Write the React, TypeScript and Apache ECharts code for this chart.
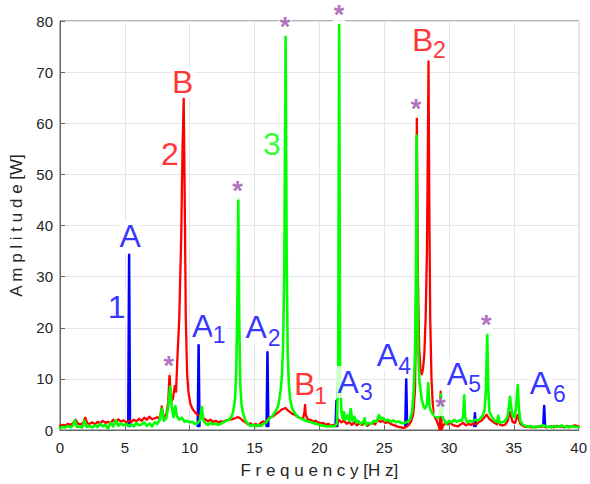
import React, { useEffect, useRef } from "react";
import * as echarts from "echarts";

// Spectrum 1 only rises above the others at its harmonic lines: [frequency (Hz), amplitude (W)]
const PEAKS_1: [number, number][] = [
  [5.33, 34.3], [10.69, 16.6], [16.0, 15.2], [21.32, 5.7], [26.7, 9.9], [32.0, 3.3], [37.34, 4.7],
];
const FLOOR_1 = 0.8;

// Spectra 2 and 3 as [frequency (Hz), amplitude (W)]
const SPECTRUM_2: [number, number][] = [
  [0, 0.8], [0.2, 1.0], [0.4, 0.9], [0.6, 1.2], [0.8, 1.0], [1.0, 1.3], [1.2, 2.0], [1.4, 1.2],
  [1.6, 1.1], [1.8, 1.4], [1.95, 2.4], [2.1, 1.3], [2.3, 1.2], [2.5, 1.5], [2.7, 1.1], [2.9, 1.6],
  [3.1, 1.3], [3.3, 1.8], [3.5, 1.4], [3.7, 1.6], [3.9, 1.3], [4.1, 2.0], [4.3, 1.5], [4.5, 2.1],
  [4.7, 1.6], [4.9, 1.9], [5.1, 1.5], [5.3, 1.8], [5.5, 1.6], [5.7, 2.0], [5.9, 1.7], [6.1, 2.2],
  [6.3, 1.8], [6.5, 2.4], [6.7, 2.0], [6.9, 2.6], [7.1, 2.1], [7.3, 2.3], [7.5, 2.5], [7.7, 2.2],
  [7.85, 4.6], [8.0, 2.5], [8.2, 3.0], [8.35, 5.5], [8.45, 11.1], [8.55, 5.5], [8.7, 6.0],
  [8.85, 8.6], [8.95, 7.5], [9.05, 13.8], [9.2, 22], [9.35, 38], [9.45, 55], [9.54, 64.8],
  [9.62, 45], [9.7, 22], [9.8, 11.3], [9.9, 7.5], [10.05, 5.2], [10.2, 4.2], [10.4, 3.5],
  [10.6, 3.0], [10.8, 2.6], [11.0, 2.4], [11.2, 2.1], [11.4, 1.7], [11.6, 2.0], [11.8, 1.6],
  [12.0, 1.8], [12.2, 1.5], [12.4, 1.7], [12.6, 1.6], [12.8, 1.9], [13.0, 2.0], [13.2, 2.1],
  [13.4, 2.2], [13.6, 2.4], [13.75, 2.5], [13.9, 2.3], [14.1, 1.8], [14.3, 1.5], [14.5, 1.1],
  [14.7, 1.3], [14.9, 0.9], [15.1, 1.2], [15.3, 0.8], [15.5, 1.4], [15.7, 1.7], [15.9, 1.3],
  [16.1, 2.4], [16.3, 2.5], [16.5, 2.8], [16.7, 3.2], [16.9, 3.6], [17.1, 4.0], [17.3, 4.2],
  [17.4, 4.3], [17.5, 4.0], [17.7, 3.6], [17.9, 3.2], [18.1, 3.0], [18.3, 2.6], [18.5, 2.4],
  [18.75, 2.2], [18.85, 3.5], [18.9, 4.9], [18.95, 3.0], [19.1, 2.1], [19.3, 2.0], [19.5, 1.7],
  [19.7, 1.8], [19.9, 1.5], [20.1, 1.3], [20.3, 1.4], [20.5, 1.0], [20.7, 1.2], [20.9, 0.8],
  [21.1, 1.0], [21.3, 0.9], [21.5, 2.0], [21.7, 1.5], [21.9, 1.8], [22.1, 1.2], [22.3, 1.6],
  [22.5, 1.0], [22.7, 1.5], [22.9, 0.9], [23.1, 1.3], [23.3, 1.0], [23.5, 1.6], [23.7, 0.8],
  [23.9, 1.2], [24.1, 1.4], [24.3, 1.1], [24.5, 2.0], [24.7, 1.6], [24.9, 1.8], [25.1, 1.4],
  [25.3, 1.6], [25.5, 1.2], [25.7, 1.0], [25.9, 0.8], [26.1, 0.6], [26.3, 0.5], [26.5, 0.4],
  [26.7, 0.6], [26.9, 1.0], [27.1, 1.8], [27.25, 3.2], [27.38, 8], [27.45, 22], [27.52, 61.1],
  [27.6, 30], [27.7, 16], [27.8, 12], [27.9, 10.9], [28.0, 12], [28.1, 15], [28.2, 22],
  [28.3, 35], [28.37, 55], [28.42, 72.1], [28.48, 45], [28.55, 22], [28.65, 10], [28.75, 5],
  [28.9, 2.6], [29.05, 1.8], [29.2, 0.8], [29.28, 0.1], [29.36, 7.5], [29.44, 0.1], [29.55, 0.9],
  [29.7, 1.3], [29.9, 1.1], [30.1, 1.4], [30.3, 1.0], [30.5, 0.8], [30.7, 0.7], [30.9, 1.1],
  [31.1, 1.4], [31.3, 0.9], [31.5, 1.2], [31.7, 1.0], [31.9, 1.3], [32.1, 1.1], [32.3, 1.6],
  [32.5, 1.8], [32.7, 2.4], [32.9, 3.0], [33.1, 2.2], [33.3, 1.8], [33.5, 1.4], [33.7, 1.1],
  [33.8, 2.2], [33.95, 1.0], [34.1, 0.9], [34.3, 1.0], [34.5, 1.6], [34.7, 3.5], [34.9, 1.6],
  [35.1, 1.4], [35.3, 3.0], [35.5, 1.2], [35.7, 0.8], [35.9, 0.6], [36.1, 0.7], [36.3, 0.5],
  [36.5, 0.6], [36.7, 0.5], [36.9, 0.7], [37.1, 0.6], [37.3, 0.8], [37.5, 0.5], [37.7, 0.6],
  [37.9, 0.7], [38.1, 0.5], [38.3, 0.8], [38.5, 0.6], [38.7, 0.7], [38.9, 0.5], [39.1, 0.8],
  [39.3, 0.6], [39.5, 0.7], [39.7, 0.9], [40, 0.7],
];

const SPECTRUM_3: [number, number][] = [
  [0, 0.4], [0.2, 0.6], [0.4, 0.5], [0.6, 0.8], [0.8, 0.5], [1.0, 0.9], [1.15, 1.9], [1.3, 0.6],
  [1.5, 0.7], [1.7, 0.5], [1.9, 1.8], [2.05, 0.6], [2.3, 0.8], [2.5, 0.5], [2.7, 0.9], [2.9, 0.6],
  [3.1, 1.2], [3.3, 0.7], [3.5, 1.0], [3.7, 0.3], [3.9, 1.4], [4.1, 0.7], [4.3, 1.9], [4.5, 0.8],
  [4.7, 1.3], [4.9, 0.9], [5.1, 1.2], [5.3, 0.8], [5.5, 1.1], [5.7, 0.7], [5.9, 1.4], [6.1, 0.9],
  [6.3, 1.1], [6.5, 1.5], [6.7, 0.8], [6.9, 1.3], [7.1, 0.7], [7.3, 1.5], [7.5, 1.2], [7.7, 2.0],
  [7.85, 4.2], [8.0, 1.8], [8.2, 2.3], [8.35, 4.5], [8.5, 8.5], [8.6, 5.0], [8.75, 2.5],
  [8.9, 4.7], [9.0, 2.8], [9.2, 2.0], [9.4, 2.4], [9.6, 1.6], [9.8, 1.8], [10.0, 1.5],
  [10.2, 1.6], [10.4, 1.2], [10.6, 1.3], [10.8, 2.0], [10.94, 4.5], [11.05, 2.0], [11.2, 1.3],
  [11.4, 1.0], [11.6, 1.4], [11.8, 1.1], [12.0, 1.3], [12.2, 1.0], [12.4, 1.2], [12.6, 1.5],
  [12.8, 1.8], [13.0, 2.0], [13.2, 2.5], [13.35, 3.5], [13.5, 6], [13.6, 12], [13.68, 25],
  [13.75, 45.2], [13.82, 22], [13.9, 9], [14.0, 5], [14.1, 3.5], [14.3, 1.8], [14.5, 1.2],
  [14.7, 0.8], [14.9, 1.0], [15.1, 0.7], [15.3, 1.0], [15.5, 0.8], [15.7, 1.2], [15.9, 1.5],
  [16.1, 2.2], [16.3, 2.5], [16.5, 3.2], [16.7, 4.0], [16.85, 5], [17.0, 7.5], [17.1, 10],
  [17.2, 16], [17.3, 32], [17.4, 77.1], [17.48, 35], [17.56, 15], [17.65, 9], [17.75, 6],
  [17.9, 4.2], [18.0, 3.8], [18.2, 3.0], [18.4, 2.5], [18.6, 2.2], [18.8, 2.0], [19.0, 1.8],
  [19.2, 1.6], [19.4, 1.5], [19.6, 1.3], [19.8, 1.2], [20.0, 1.0], [20.2, 0.9], [20.4, 0.8],
  [20.6, 0.7], [20.8, 0.8], [21.0, 0.7], [21.2, 0.8], [21.35, 1.2], [21.45, 10], [21.53, 79.4],
  [21.6, 12], [21.7, 3.8], [21.8, 2.2], [21.9, 3.5], [22.0, 2.0], [22.15, 2.8], [22.3, 1.8],
  [22.42, 4.1], [22.55, 1.8], [22.7, 2.6], [22.85, 1.5], [23.0, 1.8], [23.2, 1.2], [23.4, 1.6],
  [23.5, 2.3], [23.6, 1.0], [23.8, 1.4], [24.0, 1.2], [24.2, 1.8], [24.4, 1.6], [24.6, 2.9],
  [24.75, 2.2], [24.9, 2.4], [25.1, 1.8], [25.3, 2.0], [25.5, 1.6], [25.7, 1.9], [25.9, 1.5],
  [26.1, 1.7], [26.3, 1.4], [26.5, 1.3], [26.7, 1.5], [26.9, 1.8], [27.0, 2.1], [27.15, 3.5],
  [27.27, 7.4], [27.38, 15], [27.45, 30], [27.5, 57.6], [27.56, 30], [27.63, 15], [27.72, 9.4],
  [27.8, 8], [27.9, 6], [28.03, 4.7], [28.15, 4.2], [28.3, 5], [28.4, 9.2], [28.5, 4.5],
  [28.65, 3.5], [28.8, 3.0], [29.0, 2.6], [29.15, 2.3], [29.3, 3.0], [29.38, 7.0], [29.5, 2.5],
  [29.65, 1.8], [29.8, 1.2], [30.0, 1.8], [30.2, 1.5], [30.4, 2.0], [30.6, 1.6], [30.8, 1.9],
  [31.0, 1.8], [31.1, 3.0], [31.17, 6.8], [31.25, 2.5], [31.4, 1.5], [31.6, 1.8], [31.8, 1.6],
  [32.0, 2.0], [32.2, 1.8], [32.4, 2.2], [32.6, 2.8], [32.75, 4], [32.85, 8], [32.95, 18.9],
  [33.03, 8], [33.12, 3.5], [33.3, 2.6], [33.5, 1.9], [33.7, 1.6], [33.8, 2.8], [33.9, 1.4],
  [34.1, 1.5], [34.3, 1.7], [34.5, 2.5], [34.6, 4], [34.7, 6.5], [34.8, 4.5], [34.9, 2.8],
  [35.05, 2.5], [35.15, 4], [35.3, 8.8], [35.4, 4], [35.5, 1.8], [35.7, 1.0], [35.9, 0.8],
  [36.1, 0.6], [36.3, 0.8], [36.5, 0.5], [36.7, 0.7], [36.9, 0.6], [37.1, 0.8], [37.3, 0.9],
  [37.5, 0.6], [37.7, 0.7], [37.9, 0.5], [38.1, 0.8], [38.3, 0.6], [38.5, 0.7], [38.7, 0.9],
  [38.9, 0.6], [39.1, 0.7], [39.3, 0.5], [39.5, 0.8], [39.7, 0.6], [40, 0.6],
];

// Annotations: [text, frequency, amplitude] at the centre of each label
const BLUE_LABELS: [string, number, number][] = [
  ["A", 5.41, 37.9], ["1", 4.37, 24.0], ["A", 11.01, 20.35], ["A", 15.12, 20.1],
  ["A", 22.23, 9.37], ["A", 25.25, 14.63], ["A", 30.65, 10.99], ["A", 37.05, 9.17],
];
const BLUE_SUBS: [string, number, number][] = [
  ["1", 12.28, 18.6], ["2", 16.52, 17.95], ["3", 23.63, 7.51], ["4", 26.58, 12.49],
  ["5", 31.98, 8.92], ["6", 38.52, 7.02],
];
const RED_LABELS: [string, number, number][] = [
  ["B", 9.46, 68.1], ["2", 8.47, 54.0], ["B", 18.87, 8.98], ["B", 27.97, 76.29],
];
const RED_SUBS: [string, number, number][] = [
  ["1", 20.11, 6.69], ["2", 29.25, 74.24],
];
const GREEN_LABELS: [string, number, number][] = [["3", 16.34, 56.0]];
const STARS: [number, number][] = [
  [8.39, 12.68], [13.69, 47.0], [17.36, 79.02], [21.52, 81.37], [27.46, 62.97],
  [29.35, 4.68], [32.87, 20.68],
];

const X_TICKS = { min: 0, max: 40, step: 5 };
const Y_TICKS = { min: 0, max: 80, step: 10 };

const FONT = "'Liberation Sans', Arial, Helvetica, sans-serif";
const BLUE = "#0000ff";
const RED = "#ff0000";
const GREEN = "#00ff00";
const PURPLE = "#9b4bb0";

// Each line of spectrum 1 is a narrow spike from the floor, separated by gaps
const LINE_HALF_WIDTH = 0.07;
const spectrum1 = PEAKS_1.flatMap(([f, a]) => [
  [f - LINE_HALF_WIDTH, FLOOR_1],
  [f, a],
  [f + LINE_HALF_WIDTH, FLOOR_1],
  [f + LINE_HALF_WIDTH, null],
]);

function labelSeries(
  items: [string, number, number][],
  color: string,
  fontSize: number,
  extra: Record<string, any> = {}
) {
  return {
    type: "scatter",
    silent: true,
    clip: false,
    z: 10,
    symbol: "circle",
    symbolSize: 0.1,
    itemStyle: { color: "rgba(0,0,0,0)" },
    data: items.map(([t, x, y]) => ({ name: t, value: [x, y] })),
    label: {
      show: true,
      position: "inside",
      formatter: "{b}",
      color,
      fontSize,
      fontFamily: FONT,
      backgroundColor: "#ffffff",
      padding: [0, 1],
      ...extra,
    },
  };
}

function lineSeries(data: any[], color: string, z: number, width: number) {
  return {
    type: "line",
    data,
    z,
    showSymbol: false,
    symbol: "none",
    silent: true,
    connectNulls: false,
    lineStyle: { color, width, join: "round", cap: "round" },
  };
}

export default function App() {
  const ref = useRef<HTMLDivElement>(null);

  useEffect(() => {
    if (!ref.current) return;
    const chart = echarts.init(ref.current, null, { renderer: "svg" });
    const axisColor = "#666666";
    const textColor = "#262626";
    chart.setOption({
      animation: false,
      backgroundColor: "#ffffff",
      grid: {
        left: 60,
        right: 7,
        top: 21,
        bottom: 53,
        show: true,
        borderColor: axisColor,
        borderWidth: 1,
      },
      xAxis: {
        type: "value",
        min: X_TICKS.min,
        max: X_TICKS.max,
        interval: X_TICKS.step,
        name: "F r e q u e n c y [H z]",
        nameLocation: "middle",
        nameGap: 32,
        nameTextStyle: { fontSize: 17, color: textColor, fontFamily: FONT },
        axisLine: { lineStyle: { color: axisColor, width: 1 } },
        axisTick: { inside: true, length: 5, lineStyle: { color: axisColor } },
        axisLabel: { fontSize: 15, color: textColor, fontFamily: FONT, margin: 10 },
        splitLine: { show: true, lineStyle: { color: "#e6e6e6", width: 1 } },
      },
      yAxis: {
        type: "value",
        min: Y_TICKS.min,
        max: Y_TICKS.max,
        interval: Y_TICKS.step,
        name: "A m p l i t u d e [W]",
        nameLocation: "middle",
        nameRotate: 90,
        nameGap: 22,
        nameTextStyle: { fontSize: 17, color: textColor, fontFamily: FONT },
        axisLine: { show: true, lineStyle: { color: axisColor, width: 1 } },
        axisTick: { show: true, inside: true, length: 5, lineStyle: { color: axisColor } },
        axisLabel: { fontSize: 15, color: textColor, fontFamily: FONT, margin: 7 },
        splitLine: { show: true, lineStyle: { color: "#e6e6e6", width: 1 } },
      },
      series: [
        lineSeries(spectrum1, BLUE, 2, 2.5),
        lineSeries(SPECTRUM_2, RED, 3, 2.3),
        lineSeries(SPECTRUM_3, GREEN, 4, 2.6),
        labelSeries(BLUE_LABELS, BLUE, 32),
        labelSeries(BLUE_SUBS, BLUE, 23),
        labelSeries(RED_LABELS, RED, 32),
        labelSeries(RED_SUBS, RED, 23),
        labelSeries(GREEN_LABELS, GREEN, 32),
        // The asterisk sits high in its line box: a short line with extra top padding
        // keeps the white backing tight around the glyph.
        labelSeries(
          STARS.map(([x, y]) => ["*", x, y] as [string, number, number]),
          PURPLE,
          27,
          { fontWeight: "bold", lineHeight: 8, padding: [10, 1, 0, 1], offset: [0, 1] }
        ),
      ],
    });
    return () => chart.dispose();
  }, []);

  return (
    <div
      ref={ref}
      style={{ position: "fixed", left: 0, top: 0, width: 590, height: 484, background: "#fff" }}
    />
  );
}
